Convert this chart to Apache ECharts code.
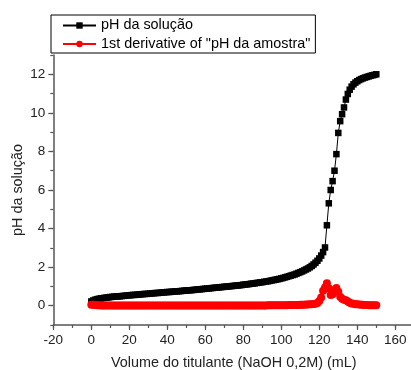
<!DOCTYPE html>
<html>
<head>
<meta charset="utf-8">
<script src="https://cdn.jsdelivr.net/npm/echarts@6/dist/echarts.min.js"></script>
<style>
  html, body { margin: 0; padding: 0; background: #fff; }
  #chart { width: 411px; height: 370px; }
</style>
</head>
<body>
<div id="chart"></div>
<script>
// titrant volume (mL)
const volume = [
  0, 1, 2, 3, 4, 5, 6, 7, 8, 9,
  10, 11, 12, 13, 14, 15, 16, 17, 18, 19,
  20, 21, 22, 23, 24, 25, 26, 27, 28, 29,
  30, 31, 32, 33, 34, 35, 36, 37, 38, 39,
  40, 41, 42, 43, 44, 45, 46, 47, 48, 49,
  50, 51, 52, 53, 54, 55, 56, 57, 58, 59,
  60, 61, 62, 63, 64, 65, 66, 67, 68, 69,
  70, 71, 72, 73, 74, 75, 76, 77, 78, 79,
  80, 81, 82, 83, 84, 85, 86, 87, 88, 89,
  90, 91, 92, 93, 94, 95, 96, 97, 98, 99,
  100, 101, 102, 103, 104, 105, 106, 107, 108, 109,
  110, 111, 112, 113, 114, 115, 116, 117, 118, 119,
  120, 121, 122, 123, 124, 125, 126, 127, 128, 129,
  130, 131, 132, 133, 134, 135, 136, 137, 138, 139,
  140, 141, 142, 143, 144, 145, 146, 147, 148, 149,
  150
];

// pH da solução
const ph = [
  0.22, 0.27, 0.31, 0.34, 0.36, 0.38, 0.39, 0.41, 0.42, 0.43,
  0.45, 0.46, 0.47, 0.48, 0.48, 0.49, 0.50, 0.51, 0.52, 0.53,
  0.54, 0.55, 0.56, 0.56, 0.57, 0.58, 0.59, 0.60, 0.61, 0.61,
  0.62, 0.63, 0.64, 0.65, 0.66, 0.66, 0.67, 0.68, 0.69, 0.70,
  0.71, 0.71, 0.72, 0.73, 0.74, 0.75, 0.75, 0.76, 0.77, 0.78,
  0.79, 0.80, 0.80, 0.81, 0.82, 0.83, 0.84, 0.85, 0.86, 0.87,
  0.88, 0.89, 0.90, 0.91, 0.92, 0.93, 0.94, 0.95, 0.96, 0.97,
  0.98, 0.99, 1.00, 1.01, 1.02, 1.03, 1.04, 1.05, 1.06, 1.07,
  1.09, 1.10, 1.11, 1.12, 1.14, 1.15, 1.16, 1.18, 1.19, 1.21,
  1.22, 1.24, 1.25, 1.27, 1.29, 1.31, 1.33, 1.35, 1.37, 1.39,
  1.42, 1.44, 1.47, 1.50, 1.53, 1.56, 1.59, 1.62, 1.66, 1.70,
  1.74, 1.78, 1.83, 1.88, 1.93, 1.99, 2.06, 2.14, 2.23, 2.33,
  2.45, 2.60, 2.78, 3.02, 4.17, 5.31, 6.00, 6.46, 7.00, 7.86,
  8.96, 9.57, 9.93, 10.28, 10.69, 10.98, 11.20, 11.36, 11.48, 11.57,
  11.64, 11.70, 11.75, 11.79, 11.83, 11.86, 11.89, 11.92, 11.95, 11.97,
  12.00
];

// 1st derivative of "pH da amostra"
const deriv = [
  0.05, 0.045, 0.035, 0.025, 0.02, 0.015, 0.015, 0.015, 0.015, 0.015,
  0.012, 0.01, 0.01, 0.01, 0.01, 0.01, 0.01, 0.01, 0.01, 0.01,
  0.01, 0.01, 0.01, 0.01, 0.01, 0.01, 0.01, 0.01, 0.01, 0.01,
  0.01, 0.01, 0.01, 0.01, 0.01, 0.01, 0.01, 0.01, 0.01, 0.01,
  0.01, 0.01, 0.01, 0.01, 0.01, 0.01, 0.01, 0.01, 0.01, 0.01,
  0.01, 0.01, 0.01, 0.01, 0.01, 0.01, 0.01, 0.01, 0.01, 0.01,
  0.01, 0.01, 0.01, 0.01, 0.01, 0.01, 0.01, 0.01, 0.01, 0.01,
  0.01, 0.01, 0.01, 0.01, 0.01, 0.01, 0.011, 0.011, 0.011, 0.012,
  0.012, 0.012, 0.013, 0.013, 0.013, 0.014, 0.014, 0.015, 0.015, 0.015,
  0.016, 0.016, 0.017, 0.018, 0.018, 0.019, 0.02, 0.02, 0.021, 0.022,
  0.025, 0.027, 0.029, 0.03, 0.032, 0.033, 0.035, 0.037, 0.038, 0.04,
  0.045, 0.05, 0.055, 0.06, 0.065, 0.07, 0.08, 0.09, 0.1, 0.14,
  0.25, 0.42, 0.78, 0.95, 1.16, 0.9, 0.55, 0.6, 0.8, 0.92,
  0.72, 0.47, 0.36, 0.31, 0.28, 0.22, 0.16, 0.12, 0.1, 0.08,
  0.07, 0.06, 0.05, 0.045, 0.04, 0.035, 0.03, 0.03, 0.03, 0.025,
  0.025
];

const xTickLabels = ['-20', '0', '20', '40', '60', '80', '100', '120', '140', '160'];
const yTickLabels = ['0', '2', '4', '6', '8', '10', '12'];

const font = "'Liberation Sans', Arial, sans-serif";
const axisColor = '#555';
const labelColor = '#222';

const chart = echarts.init(document.getElementById('chart'));

chart.setOption({
  animation: false,
  textStyle: { fontFamily: font },
  grid: { left: 53.3, top: 55, width: 361, height: 270, outerBoundsMode: 'none', containLabel: false },
  legend: {
    orient: 'vertical',
    left: 51,
    top: 15,
    padding: [2.5, 5, 1, 11],
    itemGap: 2.5,
    itemWidth: 33,
    itemHeight: 8,
    borderColor: '#000',
    borderWidth: 1,
    textStyle: { fontFamily: font, fontSize: 14.4, color: '#000', lineHeight: 16 },
    data: ['pH da solução', '1st derivative of "pH da amostra"']
  },
  xAxis: [
    {
      type: 'value',
      min: -20,
      max: 170,
      interval: 20,
      name: 'Volume do titulante (NaOH 0,2M) (mL)',
      nameLocation: 'middle',
      nameGap: 31,
      nameTextStyle: { fontFamily: font, fontSize: 14.4, color: labelColor },
      axisLine: { onZero: false, lineStyle: { color: axisColor, width: 1.5 } },
      axisTick: { inside: false, length: 5, lineStyle: { color: axisColor, width: 1.2 } },
      axisLabel: {
        fontFamily: font, fontSize: 13.5, color: labelColor, margin: 8,
        showMaxLabel: false,
        formatter: (v) => (xTickLabels.includes(String(v)) ? String(v) : '')
      },
      splitLine: { show: false }
    },
    {
      type: 'value',
      position: 'bottom',
      min: -20,
      max: 170,
      interval: 10,
      axisLine: { show: false, onZero: false },
      axisTick: { length: 3, lineStyle: { color: axisColor, width: 1.2 } },
      axisLabel: { show: false },
      splitLine: { show: false }
    }
  ],
  yAxis: [
    {
      type: 'value',
      min: -1,
      max: 13,
      splitNumber: 7,
      name: 'pH da solução',
      nameLocation: 'middle',
      nameGap: 28,
      nameMoveOverlap: false,
      nameTextStyle: { fontFamily: font, fontSize: 14.4, color: labelColor },
      axisLine: { onZero: false, lineStyle: { color: axisColor, width: 1.5 } },
      axisTick: { length: 5, lineStyle: { color: axisColor, width: 1.2 } },
      axisLabel: {
        fontFamily: font, fontSize: 13.5, color: labelColor, margin: 8,
        showMinLabel: false, showMaxLabel: false,
        formatter: (v) => (yTickLabels.includes(String(v)) ? String(v) : '')
      },
      splitLine: { show: false }
    },
    {
      type: 'value',
      position: 'left',
      offset: 0,
      min: -1,
      max: 13,
      interval: 1,
      axisLine: { show: false, onZero: false },
      axisTick: { length: 3, lineStyle: { color: axisColor, width: 1.2 } },
      axisLabel: { show: false },
      splitLine: { show: false }
    }
  ],
  series: [
    {
      name: 'pH da solução',
      type: 'line',
      symbol: 'rect',
      symbolSize: 6.5,
      color: '#000',
      lineStyle: { color: '#000', width: 1 },
      itemStyle: { color: '#000' },
      data: volume.map((v, i) => [v, ph[i]])
    },
    {
      name: '1st derivative of "pH da amostra"',
      type: 'line',
      symbol: 'circle',
      symbolSize: 8,
      color: '#ff0000',
      lineStyle: { color: '#ff0000', width: 1 },
      itemStyle: { color: '#ff0000' },
      data: volume.map((v, i) => [v, deriv[i]])
    }
  ]
});
</script>
</body>
</html>
